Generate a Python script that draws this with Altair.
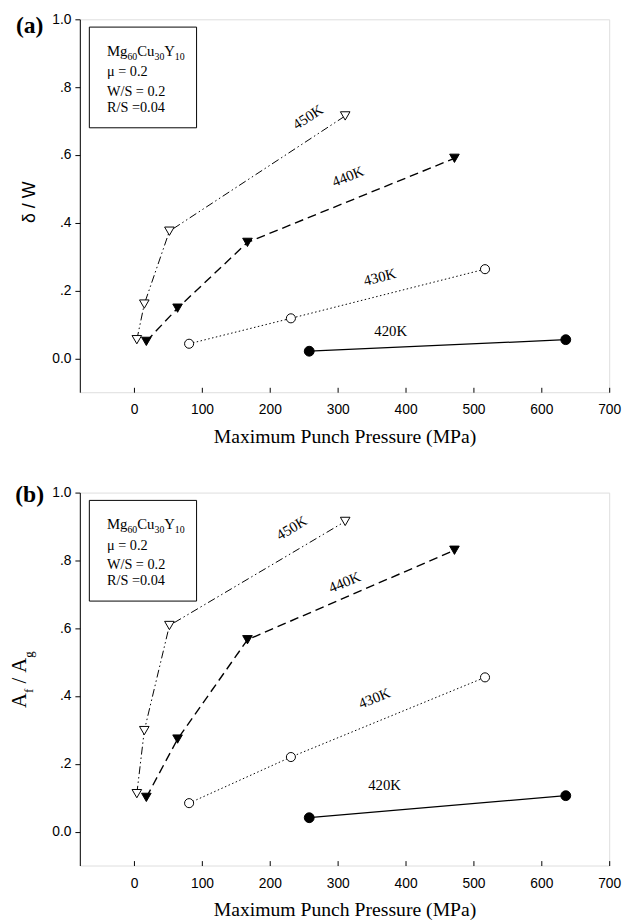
import altair as alt
import pandas as pd

# ---------------- data ----------------
pressure_450 = [4, 15, 52, 311]
pressure_440 = [18, 64, 167, 472]
pressure_430 = [81, 231, 517]
pressure_420 = [258, 636]

delta_450 = [0.055, 0.16, 0.375, 0.715]
delta_440 = [0.05, 0.148, 0.342, 0.59]
delta_430 = [0.043, 0.118, 0.263]
delta_420 = [0.021, 0.055]

area_450 = [0.112, 0.298, 0.608, 0.915]
area_440 = [0.101, 0.273, 0.566, 0.83]
area_430 = [0.084, 0.22, 0.455]
area_420 = [0.041, 0.106]

series_names = ["450K", "440K", "430K", "420K"]

label_x_a = [256, 315, 362, 378]
label_y_a = [0.712, 0.537, 0.24, 0.08]
label_angle_a = [327, 338, 346, 0]
label_x_b = [232, 310, 354, 369]
label_y_b = [0.896, 0.736, 0.394, 0.136]
label_angle_b = [329, 337, 338, 0]

x_ticks = [0, 100, 200, 300, 400, 500, 600, 700]
y_ticks = [0, 0.2, 0.4, 0.6, 0.8, 1.0]

box_x = [-66, 92]
box_y = [0.977, 0.68]
box_text_x = -40
box_line_y = [0.892, 0.832, 0.774, 0.727]
box_lines = ["μ = 0.2", "W/S = 0.2", "R/S =0.04"]
formula_parts = ["Mg", "60", "Cu", "30", "Y", "10"]

W, H = 538, 379
SERIF = "Liberation Serif, Times New Roman, serif"
SANS = "Liberation Sans, Arial, sans-serif"

XS = alt.Scale(domain=[-80, 700], nice=False, zero=False)
YS = alt.Scale(domain=[-0.1, 1.0], nice=False, zero=False)

AX = alt.Axis(values=x_ticks, title="Maximum Punch Pressure (MPa)", grid=False,
              domain=False, offset=-5, tickSize=5, tickColor="black", tickWidth=1,
              labelFont=SANS, labelFontSize=14, labelColor="black", labelPadding=11,
              labelFlush=False, titleFont=SERIF, titleFontSize=20,
              titleFontWeight="normal", titleColor="black", titlePadding=10)
AY = alt.Axis(values=y_ticks,
              labelExpr="datum.value == 0 ? '0.0' : (datum.value == 1 ? '1.0' : replace(format(datum.value, '.1f'), '0.', '.'))",
              title="", grid=False, domain=True, domainColor="black", tickSize=5,
              tickColor="black", tickWidth=1, labelFont=SANS, labelFontSize=14,
              labelColor="black", labelPadding=4)

X = alt.X("p:Q", scale=XS, axis=AX)
Y = alt.Y("v:Q", scale=YS, axis=AY)

styles = {
    "450K": dict(shape="triangle-down", fill="white", dash=[8, 3, 1.5, 3, 1.5, 3], width=1.0, size=95),
    "440K": dict(shape="triangle-down", fill="black", dash=[9, 5], width=1.4, size=95),
    "430K": dict(shape="circle", fill="white", dash=[1.5, 2.5], width=1.0, size=85),
    "420K": dict(shape="circle", fill="black", dash=None, width=1.3, size=100),
}


def series_layers(name, xs, ys):
    df = pd.DataFrame({"p": xs, "v": ys})
    st = styles[name]
    line_kw = dict(color="black", strokeWidth=st["width"])
    if st["dash"] is not None:
        line_kw["strokeDash"] = st["dash"]
    line = alt.Chart(df).mark_line(**line_kw).encode(x=X, y=Y)
    pts = alt.Chart(df).mark_point(shape=st["shape"], filled=True, fill=st["fill"],
                                   stroke="black", strokeWidth=1, size=st["size"],
                                   opacity=1).encode(x=X, y=Y)
    return line, pts


def panel(yseries, lx, ly, lang, tag, tag_y, title_layers):
    lines, points = [], []
    for name, xs, ys in zip(series_names,
                            [pressure_450, pressure_440, pressure_430, pressure_420],
                            yseries):
        l, p = series_layers(name, xs, ys)
        lines.append(l)
        points.append(p)

    labels_df = pd.DataFrame({"p": lx, "v": ly, "ang": lang, "t": series_names})
    labels = alt.Chart(labels_df).mark_text(font=SERIF, fontSize=15, color="black",
                                            align="center", baseline="middle").encode(
        x=X, y=Y, text="t:N", angle=alt.Angle("ang:Q", scale=None))

    box = alt.Chart(pd.DataFrame({"p": [box_x[0]], "p2": [box_x[1]],
                                  "v": [box_y[0]], "v2": [box_y[1]]})).mark_rect(
        fill="white", fillOpacity=0, stroke="black", strokeWidth=1).encode(
        x=X, x2="p2:Q", y=Y, y2="v2:Q")

    box_texts = []
    fdf = pd.DataFrame({"p": [box_text_x], "v": [box_line_y[0]]})
    offsets = [0, 20.8, 30.8, 48.3, 58.3, 69]
    for part, off in zip(formula_parts, offsets):
        sub = part.isdigit()
        box_texts.append(alt.Chart(fdf).mark_text(
            text=part, font=SERIF, fontSize=10 if sub else 15, color="black",
            align="left", baseline="alphabetic", dx=off, dy=4 if sub else 0).encode(x=X, y=Y))
    for txt, yy in zip(box_lines, box_line_y[1:]):
        box_texts.append(alt.Chart(pd.DataFrame({"p": [box_text_x], "v": [yy]})).mark_text(
            text=txt, font=SERIF, fontSize=14.5, color="black", align="left",
            baseline="alphabetic").encode(x=X, y=Y))

    tag_mark = alt.Chart(pd.DataFrame({"p": [0]})).mark_text(
        text=tag, font=SERIF, fontSize=24, fontWeight="bold", color="black",
        align="center", baseline="middle").encode(x=alt.value(-51), y=alt.value(tag_y))

    return alt.layer(*lines, *points, labels, box, *box_texts, tag_mark, *title_layers).properties(
        width=W, height=H)


dummy = pd.DataFrame({"p": [0]})

# y title (a): delta / W
title_a = [alt.Chart(dummy).mark_text(text="δ / W", font=SANS, fontSize=18, color="black",
                                      angle=270, align="center", baseline="alphabetic").encode(
    x=alt.value(-46), y=alt.value(186))]

# y title (b): A_f / A_g
b_parts = [("A", 21, -28.8, 0), ("f", 13, -13.6, 7), ("/", 21, -4.0, 0),
           ("A", 21, 7.0, 0), ("g", 13, 22.2, 7)]
title_b = [alt.Chart(dummy).mark_text(text=t, font=SERIF, fontSize=fs, color="black",
                                      angle=270, align="left", baseline="alphabetic",
                                      dx=dx, dy=dy).encode(x=alt.value(-55), y=alt.value(190))
           for t, fs, dx, dy in b_parts]

top = panel([delta_450, delta_440, delta_430, delta_420], label_x_a, label_y_a,
            label_angle_a, "(a)", 7, title_a)
bottom = panel([area_450, area_440, area_430, area_420], label_x_b, label_y_b,
               label_angle_b, "(b)", 3, title_b)

chart = alt.vconcat(top, bottom, spacing=36).properties(
    padding={"top": -4, "left": 0, "right": 0, "bottom": 0}).configure_view(
    stroke="black", strokeWidth=1).configure_axis(
    titleFont=SERIF, labelFont=SANS).configure(background="white")

chart.save("out.html", embed_options={"renderer": "svg", "actions": False})
